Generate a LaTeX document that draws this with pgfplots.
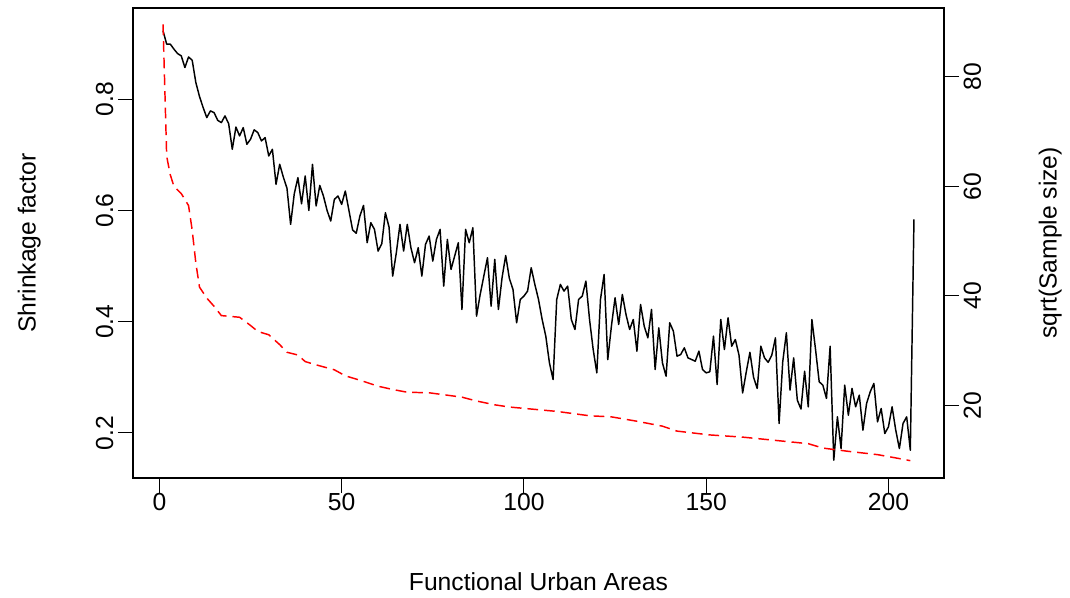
\documentclass[border=0pt]{standalone}
\usepackage{fontspec}
\setmainfont{Liberation Sans}
\usepackage{pgfplots}
\pgfplotsset{compat=1.18}
\usepackage{xcolor}
\definecolor{rred}{HTML}{FF0000}

\pgfplotstableread{
x y
1 0.923
2 0.899
3 0.899
4 0.890
5 0.882
6 0.878
7 0.857
8 0.876
9 0.870
10 0.830
11 0.805
12 0.785
13 0.767
14 0.779
15 0.776
16 0.762
17 0.758
18 0.770
19 0.756
20 0.710
21 0.750
22 0.734
23 0.749
24 0.719
25 0.728
26 0.745
27 0.740
28 0.725
29 0.731
30 0.698
31 0.710
32 0.647
33 0.683
34 0.660
35 0.640
36 0.575
37 0.630
38 0.659
39 0.612
40 0.662
41 0.600
42 0.683
43 0.608
44 0.645
45 0.626
46 0.600
47 0.581
48 0.620
49 0.626
50 0.611
51 0.635
52 0.600
53 0.565
54 0.559
55 0.590
56 0.609
57 0.542
58 0.578
59 0.566
60 0.527
61 0.540
62 0.596
63 0.570
64 0.482
65 0.524
66 0.575
67 0.527
68 0.575
69 0.533
70 0.506
71 0.533
72 0.482
73 0.539
74 0.554
75 0.509
76 0.548
77 0.566
78 0.464
79 0.548
80 0.494
81 0.518
82 0.542
83 0.422
84 0.566
85 0.542
86 0.569
87 0.410
88 0.449
89 0.482
90 0.515
91 0.428
92 0.512
93 0.422
94 0.479
95 0.519
96 0.478
97 0.458
98 0.398
99 0.440
100 0.446
101 0.455
102 0.497
103 0.467
104 0.440
105 0.404
106 0.374
107 0.326
108 0.296
109 0.440
110 0.467
111 0.455
112 0.464
113 0.404
114 0.386
115 0.440
116 0.446
117 0.473
118 0.404
119 0.350
120 0.308
121 0.440
122 0.485
123 0.332
124 0.392
125 0.443
126 0.395
127 0.449
128 0.413
129 0.386
130 0.404
131 0.347
132 0.431
133 0.392
134 0.371
135 0.422
136 0.314
137 0.389
138 0.326
139 0.302
140 0.398
141 0.383
142 0.338
143 0.341
144 0.353
145 0.335
146 0.332
147 0.329
148 0.347
149 0.314
150 0.308
151 0.310
152 0.374
153 0.287
154 0.404
155 0.350
156 0.407
157 0.356
158 0.368
159 0.340
160 0.272
161 0.310
162 0.345
163 0.300
164 0.280
165 0.356
166 0.335
167 0.327
168 0.340
169 0.371
170 0.217
171 0.328
172 0.380
173 0.277
174 0.335
175 0.259
176 0.243
177 0.311
178 0.247
179 0.404
180 0.350
181 0.292
182 0.286
183 0.262
184 0.356
185 0.151
186 0.229
187 0.172
188 0.286
189 0.232
190 0.280
191 0.247
192 0.268
193 0.205
194 0.253
195 0.274
196 0.289
197 0.220
198 0.244
199 0.199
200 0.211
201 0.247
202 0.205
203 0.172
204 0.217
205 0.229
206 0.169
207 0.584
}\shrinkage

\pgfplotstableread{
x y
1 89.6
2 65.5
3 62.1
4 60.0
6 58.7
8 56.5
9 52.0
10 46.0
11 41.6
13 39.6
15 38.1
17 36.4
22 36.1
25 34.6
27 33.5
30 32.9
33 31.1
35 29.7
38 29.2
40 28.0
43 27.4
48 26.5
51 25.4
55 24.6
60 23.5
64 22.9
68 22.4
74 22.3
83 21.5
87 20.8
92 20.1
96 19.7
109 18.9
118 18.1
124 17.9
131 17.1
138 16.2
142 15.3
151 14.6
160 14.2
169 13.6
178 13.0
182 12.2
189 11.6
197 11.0
202 10.4
206 9.9
}\sqrtsize

\begin{document}
\begin{tikzpicture}
\pgfplotsset{
  rstyle/.style={
    scale only axis, width=608.25pt, height=352.5pt,
    xmin=-7.24, xmax=215.24,
    tick align=outside, major tick length=11.25pt,
    tick style={line width=0.8pt, black},
    ticklabel style={font=\fontsize{18.5}{22}\selectfont},
    label style={font=\fontsize{18.5}{22}\selectfont},
    /pgf/number format/assume math mode=true,
  }
}
\begin{axis}[rstyle, name=ax,
  ymin=0.119, ymax=0.964,
  axis line style={line width=0.9pt},
  xtick={0,50,100,150,200}, xtick pos=bottom,
  xticklabel shift=-3pt,
  ytick={0.2,0.4,0.6,0.8}, ytick pos=left,
  yticklabel style={rotate=90, anchor=south, /pgf/number format/fixed, /pgf/number format/precision=1},
  xlabel={Functional Urban Areas},
  ylabel={Shrinkage factor},
  xlabel style={at={(axis description cs:0.5,-0.221)}, anchor=center},
  ylabel style={at={(axis description cs:-0.128,0.5)}, anchor=center, rotate=0},
]
\addplot[black, line width=1.1pt, line join=round] table[x=x, y=y] {\shrinkage};
\end{axis}
\begin{axis}[rstyle,
  ymin=6.73, ymax=92.6,
  axis x line=none, axis y line*=right,
  axis line style={line width=0.9pt},
  ytick={20,40,60,80}, ytick pos=right,
  yticklabel style={rotate=90, anchor=north},
  ylabel={sqrt(Sample size)},
  ylabel style={at={(axis description cs:1.131,0.5)}, anchor=center, rotate=0},
]
\addplot[rred, line width=1.1pt, dash pattern=on 8pt off 4.5pt] table[x=x, y=y] {\sqrtsize};
\end{axis}
\pgfresetboundingbox
\path[use as bounding box] ([xshift=-99.75pt, yshift=-89.25pt]ax.south west) rectangle ([xshift=94.5pt, yshift=6pt]ax.north east);
\end{tikzpicture}
\end{document}
